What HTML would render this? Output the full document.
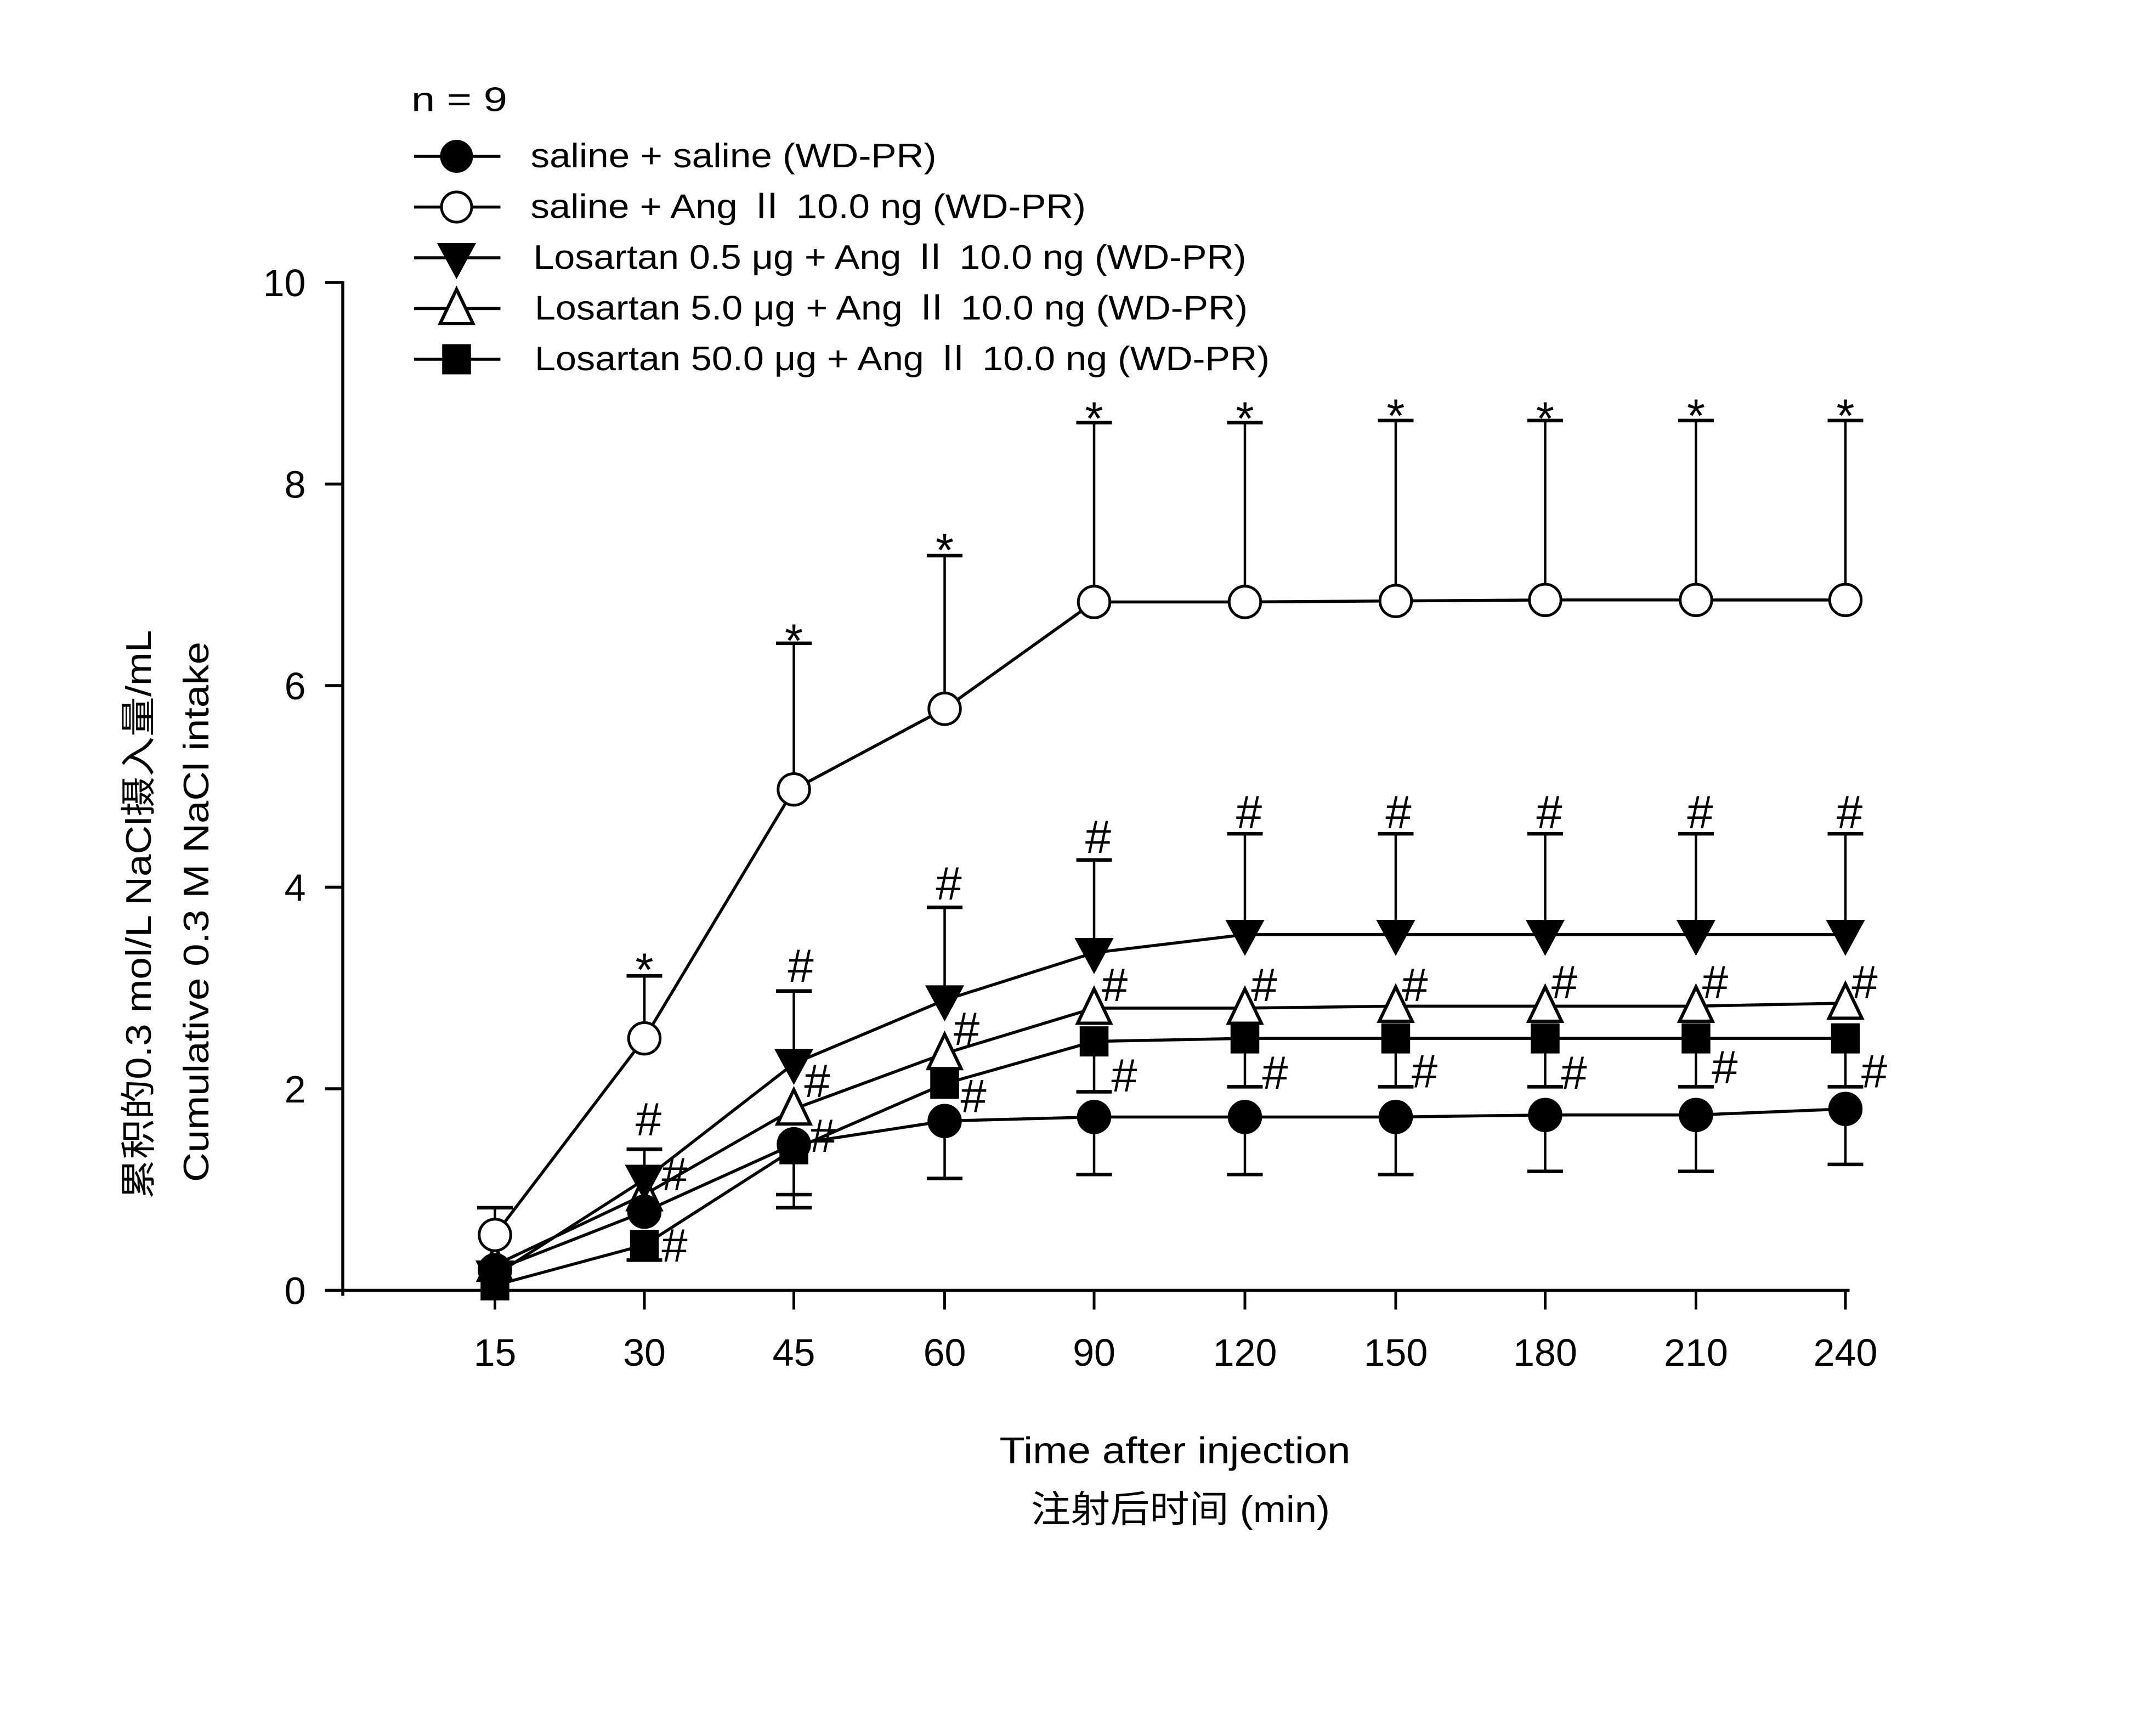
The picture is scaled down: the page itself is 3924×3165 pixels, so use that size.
<!DOCTYPE html>
<html><head><meta charset="utf-8"><style>
html,body{margin:0;padding:0;background:#fff;}
svg{display:block;}
text{font-family:"Liberation Sans","Noto Sans CJK SC",sans-serif;fill:#000;}
</style></head><body>
<svg id="s" width="3924" height="3165" viewBox="0 0 1569.6 1266" xmlns="http://www.w3.org/2000/svg">
<rect width="1569.6" height="1266" fill="#fff"/>
<g stroke="#000" stroke-width="2.2" fill="none">
<line x1="250" y1="205" x2="250" y2="945"/>
<line x1="249" y1="941" x2="1349" y2="941"/>
</g>
<g font-size="28" text-anchor="end">
<text x="223" y="216">10</text><text x="223" y="363">8</text><text x="223" y="510">6</text>
<text x="223" y="657">4</text><text x="223" y="804">2</text><text x="223" y="951">0</text>
</g>
<g font-size="28" text-anchor="middle">
<text x="361" y="996">15</text><text x="470" y="996">30</text><text x="579" y="996">45</text>
<text x="689" y="996">60</text><text x="798" y="996">90</text><text x="908" y="996">120</text>
<text x="1018" y="996">150</text><text x="1127" y="996">180</text><text x="1237" y="996">210</text>
<text x="1346" y="996">240</text>
</g>
<g font-size="27" text-anchor="middle">
<text x="857" y="1067" textLength="256" lengthAdjust="spacingAndGlyphs">Time after injection</text>
<text x="861" y="1110" textLength="218" lengthAdjust="spacingAndGlyphs">注射后时间 (min)</text>
</g>
<text transform="translate(110,667) rotate(-90)" text-anchor="middle" font-size="26" textLength="415" lengthAdjust="spacingAndGlyphs">累积的0.3 mol/L NaCl摄入量/mL</text>
<text transform="translate(152,665) rotate(-90)" text-anchor="middle" font-size="26" textLength="394" lengthAdjust="spacingAndGlyphs">Cumulative 0.3 M NaCl intake</text>
<g font-size="25">
<text x="300" y="81" textLength="70" lengthAdjust="spacingAndGlyphs">n = 9</text>
<text x="387" y="122" textLength="296" lengthAdjust="spacingAndGlyphs">saline + saline  (WD-PR)</text>
<text x="387" y="159" textLength="405" lengthAdjust="spacingAndGlyphs">saline + Ang Ⅱ 10.0 ng  (WD-PR)</text>
<text x="389" y="196" textLength="520" lengthAdjust="spacingAndGlyphs">Losartan 0.5 μg + Ang Ⅱ 10.0 ng  (WD-PR)</text>
<text x="390" y="233" textLength="520" lengthAdjust="spacingAndGlyphs">Losartan 5.0 μg + Ang Ⅱ 10.0 ng  (WD-PR)</text>
<text x="390" y="270" textLength="536" lengthAdjust="spacingAndGlyphs">Losartan 50.0 μg + Ang Ⅱ 10.0 ng  (WD-PR)</text>
</g>
<g id="plot"></g>
<g font-family="Liberation Serif" font-size="34" text-anchor="middle">
<text x="470" y="719">*</text><text x="579" y="479">*</text><text x="689" y="413">*</text>
<text x="798" y="317">*</text><text x="908" y="317">*</text><text x="1018" y="315">*</text>
<text x="1127" y="317">*</text><text x="1237" y="315">*</text><text x="1346" y="315">*</text>
</g>
<g font-family="Liberation Serif" font-size="34" text-anchor="middle">
<text x="473" y="828">#</text><text x="584" y="716">#</text><text x="692" y="656">#</text>
<text x="801" y="622">#</text><text x="911" y="604">#</text><text x="1020" y="604">#</text>
<text x="1130" y="604">#</text><text x="1240" y="604">#</text><text x="1349" y="604">#</text>
<text x="492" y="868">#</text><text x="596" y="800">#</text><text x="705" y="762">#</text>
<text x="813" y="730">#</text><text x="922" y="730">#</text><text x="1032" y="730">#</text>
<text x="1141" y="728">#</text><text x="1251" y="728">#</text><text x="1360" y="728">#</text>
<text x="492" y="920">#</text><text x="600" y="840">#</text><text x="710" y="811">#</text>
<text x="820" y="796">#</text><text x="930" y="794">#</text><text x="1039" y="793">#</text>
<text x="1148" y="794">#</text><text x="1258" y="790">#</text><text x="1367" y="793">#</text>
</g>
</svg>
<script>
(function(){
var NS="http://www.w3.org/2000/svg",g=document.getElementById("plot");
function el(t,a){var e=document.createElementNS(NS,t);for(var k in a)e.setAttribute(k,a[k]);g.appendChild(e);return e;}
var X=[361,470,579,689,798,908,1018,1127,1237,1346];
X.forEach(function(x){el("line",{x1:x,y1:941,x2:x,y2:955,stroke:"#000","stroke-width":2});});
[0,2,4,6,8,10].forEach(function(v){var y=941-73.5*v;el("line",{x1:237,y1:y,x2:250,y2:y,stroke:"#000","stroke-width":2.2});});
function Y(v){return 941-73.5*v;}
var S=[
 {m:"sq",v:[0.05,0.45,1.4,2.05,2.47,2.5,2.5,2.5,2.5,2.5],e:[0,-0.15,-0.58,0,-0.5,-0.48,-0.48,-0.48,-0.48,-0.48]},
 {m:"ut",v:[0.25,0.95,1.8,2.35,2.8,2.8,2.82,2.82,2.82,2.85],e:[0,0,0,0,0,0,0,0,0,0]},
 {m:"dt",v:[0.15,1.1,2.25,2.88,3.35,3.53,3.53,3.53,3.53,3.53],e:[0,0.3,0.72,0.92,0.92,1.0,1.0,1.0,1.0,1.0]},
 {m:"fc",v:[0.2,0.78,1.45,1.68,1.72,1.72,1.72,1.74,1.74,1.8],e:[0,0,-0.5,-0.57,-0.57,-0.57,-0.57,-0.56,-0.56,-0.55]},
 {m:"oc",v:[0.55,2.5,4.97,5.77,6.83,6.83,6.84,6.85,6.85,6.85],e:[0.27,0.62,1.45,1.52,1.78,1.78,1.79,1.78,1.78,1.78]}
];
function marker(m,x,y,r){
 var f=(m=="oc"||m=="ut")?"#fff":"#000";
 if(m=="fc"||m=="oc")el("circle",{cx:x,cy:y,r:r,fill:f,stroke:"#000","stroke-width":2});
 else if(m=="sq")el("rect",{x:x-10.5,y:y-11,width:21,height:22,fill:"#000"});
 else if(m=="dt")el("polygon",{points:(x-13)+","+(y-10)+" "+(x+13)+","+(y-10)+" "+x+","+(y+14),fill:"#000",stroke:"#000","stroke-width":1.5});
 else el("polygon",{points:(x-12)+","+(y+11)+" "+(x+12)+","+(y+11)+" "+x+","+(y-14),fill:"#fff",stroke:"#000","stroke-width":2.4});
}
S.forEach(function(s){
 s.v.forEach(function(v,i){var e=s.e[i];if(!e)return;var y0=Y(v),y1=Y(v+e);
  el("line",{x1:X[i],y1:y0,x2:X[i],y2:y1,stroke:"#000","stroke-width":1.8});
  el("line",{x1:X[i]-13,y1:y1,x2:X[i]+13,y2:y1,stroke:"#000","stroke-width":2.6});});
 el("polyline",{points:s.v.map(function(v,i){return X[i]+","+Y(v);}).join(" "),fill:"none",stroke:"#000","stroke-width":2.2});
});
S.forEach(function(s){s.v.forEach(function(v,i){marker(s.m,X[i],Y(v),11.5);});});
var L=[["fc",114],["oc",151],["dt",188],["ut",225],["sq",262]];
L.forEach(function(l){el("line",{x1:302,y1:l[1],x2:365,y2:l[1],stroke:"#000","stroke-width":2.2});marker(l[0],333,l[1],11);});
})();
</script>
</body></html>
